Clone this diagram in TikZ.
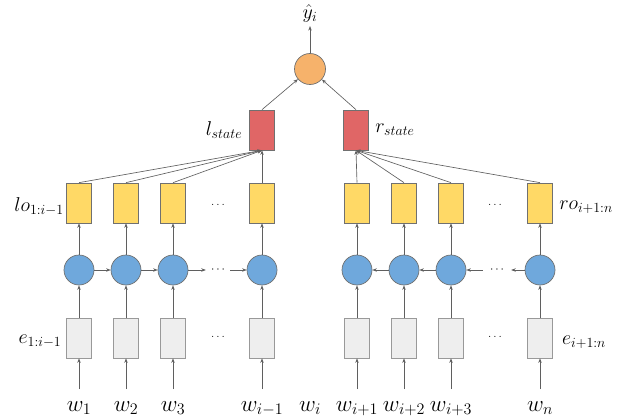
\RequirePackage{fix-cm}
\documentclass[tikz,border=0pt]{standalone}
\usetikzlibrary{arrows.meta}
\definecolor{yel}{HTML}{FFD966}
\definecolor{redc}{HTML}{E06666}
\definecolor{orc}{HTML}{F6B26B}
\definecolor{bluc}{HTML}{6FA8DC}
\definecolor{lgr}{HTML}{EEEEEE}
\definecolor{linec}{HTML}{5F5F5F}
\definecolor{bordc}{HTML}{707070}
\definecolor{gbord}{HTML}{999999}
\tikzset{
  ybox/.style={draw=bordc, fill=yel, minimum width=25pt, minimum height=40pt, inner sep=0pt, line width=0.7pt},
  rbox/.style={draw=bordc, fill=redc, minimum width=25pt, minimum height=40pt, inner sep=0pt, line width=0.7pt},
  gbox/.style={draw=gbord, fill=lgr, minimum width=25pt, minimum height=40pt, inner sep=0pt, line width=0.7pt},
  cnode/.style={circle, draw=bordc, fill=bluc, minimum size=30pt, inner sep=0pt, line width=0.7pt},
  onode/.style={circle, draw=bordc, fill=orc, minimum size=31pt, inner sep=0pt, line width=0.7pt},
  arr/.style={draw=linec, line width=0.65pt, -{Stealth[length=4.5pt,width=3.5pt]}},
  lab/.style={inner sep=0pt, font=\fontsize{20}{24}\selectfont},
  wlab/.style={inner sep=0pt, anchor=base, font=\fontsize{23}{27}\selectfont},
  dotlab/.style={inner sep=0pt, font=\fontsize{12}{14}\selectfont},
}
\begin{document}
\begin{tikzpicture}[x=1pt,y=-1pt]
\useasboundingbox (0,0) rectangle (620,417);
% columns
\foreach \i/\x in {1/79,2/126,3/173,4/262,5/357,6/404,7/451,8/540} {
  \node[ybox] (y\i) at (\x,203) {};
  \node[cnode] (c\i) at (\x,270) {};
  \node[gbox] (g\i) at (\x,338) {};
  \coordinate (win\i) at (\x,389);
  \draw[arr] (win\i) -- (g\i);
  \draw[arr] (g\i) -- (c\i);
  \draw[arr] (c\i) -- (y\i);
}
% w labels
\node[wlab] (w1) at (79,411) {$w_1$};
\node[wlab] (w2) at (126,411) {$w_2$};
\node[wlab] (w3) at (173,411) {$w_3$};
\node[wlab] (w4) at (262,411) {$w_{i-1}$};
\node[wlab] (wi) at (310,411) {$w_i$};
\node[wlab] (w5) at (357,411) {$w_{i+1}$};
\node[wlab] (w6) at (404,411) {$w_{i+2}$};
\node[wlab] (w7) at (451,411) {$w_{i+3}$};
\node[wlab] (w8) at (540,411) {$w_n$};
% dots
\node[dotlab, minimum width=24pt] (cdl) at (218,270) {$\cdots$};
\node[dotlab, minimum width=28pt] (cdr) at (497,270) {$\cdots$};
\node[dotlab] (ydl) at (218,205) {$\ldots$};
\node[dotlab] (ydr) at (495,205) {$\ldots$};
\node[dotlab] (gdl) at (218,337) {$\ldots$};
\node[dotlab] (gdr) at (495,337) {$\ldots$};
% recurrent arrows
\draw[arr] (c1) -- (c2);
\draw[arr] (c2) -- (c3);
\draw[arr] (c3) -- (cdl.west);
\draw[arr] (cdl.east) -- (c4);
\draw[arr] (c8) -- (cdr.east);
\draw[arr] (cdr.west) -- (c7);
\draw[arr] (c7) -- (c6);
\draw[arr] (c6) -- (c5);
% states
\node[rbox] (ls) at (262,130) {};
\node[rbox] (rs) at (356,130) {};
\foreach \i in {1,2,3,4} { \draw[arr] (y\i.north) -- (ls.south); }
\foreach \i in {5,6,7,8} { \draw[arr] (y\i.north) -- (rs.south); }
% output
\node[onode] (out) at (310,69) {};
\node[lab] (yhat) at (310,14) {$\hat{y}_i$};
\draw[arr] (ls.north) -- (out);
\draw[arr] (rs.north) -- (out);
\draw[arr, shorten >=3pt] (out) -- (yhat);
% side labels
\node[lab] (lsl) at (224,130) {$l_{state}$};
\node[lab] (rsl) at (395,130) {$r_{state}$};
\node[lab] (lol) at (39,207) {$lo_{1:i-1}$};
\node[lab] (rol) at (586,207) {$ro_{i+1:n}$};
\node[lab] (el) at (40,341) {$e_{1:i-1}$};
\node[lab] (er) at (584,342) {$e_{i+1:n}$};
\end{tikzpicture}
\end{document}
